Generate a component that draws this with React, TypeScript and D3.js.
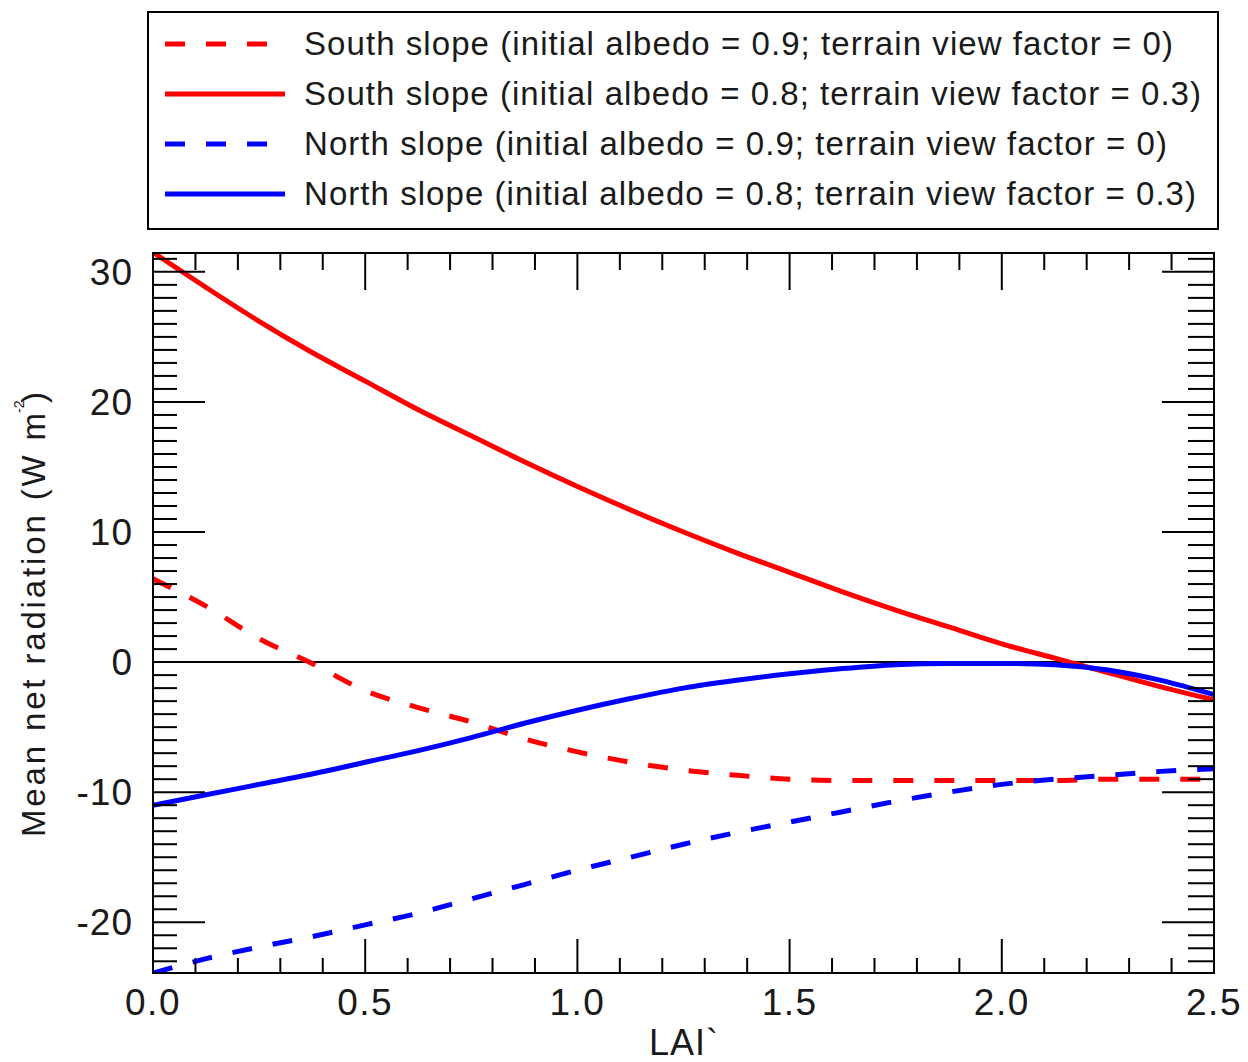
import React from "react";
import * as d3 from "d3";

const lai = [0, 0.125, 0.25, 0.375, 0.5, 0.625, 0.75, 0.875, 1.0, 1.125, 1.25, 1.375, 1.5, 1.625, 1.75, 1.875, 2.0, 2.125, 2.25, 2.375, 2.5];
const southDashed = [6.4, 4.3, 1.8, -0.1, -2.2, -3.5, -4.6, -5.9, -6.9, -7.7, -8.3, -8.7, -9.0, -9.1, -9.1, -9.1, -9.1, -9.1, -9.0, -9.0, -9.0];
const southSolid = [31.5, 28.8, 26.2, 23.8, 21.6, 19.4, 17.4, 15.4, 13.5, 11.7, 10.0, 8.4, 6.9, 5.4, 4.0, 2.7, 1.4, 0.3, -0.8, -1.9, -2.9];
const northDashed = [-23.9, -22.8, -21.9, -21.1, -20.2, -19.3, -18.2, -17.1, -16.0, -15.0, -14.0, -13.1, -12.3, -11.5, -10.7, -10.0, -9.4, -9.0, -8.7, -8.4, -8.2];
const northSolid = [-11.0, -10.2, -9.4, -8.6, -7.7, -6.8, -5.8, -4.7, -3.7, -2.8, -2.0, -1.4, -0.9, -0.5, -0.2, -0.1, -0.1, -0.2, -0.6, -1.4, -2.5];

const seriesLabels = [
  "South slope (initial albedo = 0.9; terrain view factor = 0)",
  "South slope (initial albedo = 0.8; terrain view factor = 0.3)",
  "North slope (initial albedo = 0.9; terrain view factor = 0)",
  "North slope (initial albedo = 0.8; terrain view factor = 0.3)",
];
const seriesValues = [southDashed, southSolid, northDashed, northSolid];
const seriesColors = ["#ff0000", "#ff0000", "#0000ff", "#0000ff"];
const seriesDashed = [true, false, true, false];
const legendTextWidths = [869, 897, 863, 892];

const xTickLabels = ["0.0", "0.5", "1.0", "1.5", "2.0", "2.5"];
const yTickValues = [-20, -10, 0, 10, 20, 30];

const FONT = "'Liberation Sans', Arial, Helvetica, sans-serif";

export default function App() {
  const left = 153, right = 1214, top = 253, bottom = 973;
  const x = d3.scaleLinear().domain([0, 2.5]).range([left, right]);
  const y = d3.scaleLinear().domain([-23.9, 31.45]).range([bottom, top]);

  const line = d3
    .line<[number, number]>()
    .x((d) => x(d[0]))
    .y((d) => y(d[1]))
    .curve(d3.curveMonotoneX);

  const xMinor = d3.range(0, 26).map((i) => i / 10);
  const yMinor = d3.range(-23, 32).filter((v) => v >= -23.9 && v <= 31.45);

  const dash = "20 21";

  return (
    <svg
      width={1248}
      height={1062}
      style={{ position: "absolute", left: 0, top: 0, background: "#fff" }}
      fontFamily={FONT}
    >
      <rect x={0} y={0} width={1248} height={1062} fill="#fff" />
      {/* Legend */}
      <rect x={148} y={12} width={1070} height={217} fill="#fff" stroke="#000" strokeWidth={2} />
      {seriesLabels.map((lab, i) => {
        const cy = 44 + i * 50;
        return (
          <g key={lab}>
            <line
              x1={165}
              x2={285}
              y1={cy}
              y2={cy}
              stroke={seriesColors[i]}
              strokeWidth={5}
              strokeDasharray={seriesDashed[i] ? dash : undefined}
            />
            <text
              x={304}
              y={cy + 11}
              fontSize={33}
              fill="#1a1a1a"
              textLength={legendTextWidths[i]}
              lengthAdjust="spacing"
            >
              {lab}
            </text>
          </g>
        );
      })}

      <defs>
        <clipPath id="plotclip">
          <rect x={left} y={top} width={right - left} height={bottom - top} />
        </clipPath>
      </defs>

      {/* zero line */}
      <line x1={left} x2={right} y1={y(0)} y2={y(0)} stroke="#000" strokeWidth={2} />

      {/* series */}
      <g clipPath="url(#plotclip)">
        {seriesValues.map((vals, i) => (
          <path
            key={i}
            d={line(lai.map((l, j) => [l, vals[j]] as [number, number])) || ""}
            fill="none"
            stroke={seriesColors[i]}
            strokeWidth={5}
            strokeDasharray={seriesDashed[i] ? dash : undefined}
          />
        ))}
      </g>

      {/* ticks */}
      <g stroke="#000" strokeWidth={2}>
        {xMinor.map((v, i) => {
          const major = i % 5 === 0;
          const px = x(v);
          return (
            <g key={"xt" + i}>
              <line x1={px} x2={px} y1={bottom} y2={bottom - (major ? 34 : 15)} />
              <line x1={px} x2={px} y1={top} y2={top + (major ? 37 : 17)} />
            </g>
          );
        })}
        {yMinor.map((v) => {
          const major = v % 10 === 0;
          const py = y(v);
          return (
            <g key={"yt" + v}>
              <line x1={left} x2={left + (major ? 52 : 24)} y1={py} y2={py} />
              <line x1={right} x2={right - (major ? 52 : 26)} y1={py} y2={py} />
            </g>
          );
        })}
      </g>

      {/* frame */}
      <rect x={left} y={top} width={right - left} height={bottom - top} fill="none" stroke="#000" strokeWidth={2} />

      {/* tick labels */}
      {xTickLabels.map((t) => (
        <text key={t} x={x(+t)} y={1015} fontSize={37} textAnchor="middle" fill="#1a1a1a" letterSpacing={1.5}>
          {t}
        </text>
      ))}
      {yTickValues.map((v) => (
        <text key={v} x={133} y={y(v) + 13} fontSize={37} textAnchor="end" fill="#1a1a1a" letterSpacing={1}>
          {v}
        </text>
      ))}

      {/* axis titles */}
      <text x={684} y={1055} fontSize={36} textAnchor="middle" fill="#1a1a1a" letterSpacing={1}>
        LAI`
      </text>
      <text
        transform="translate(45,837) rotate(-90)"
        fontSize={33}
        fill="#1a1a1a"
        textLength={424}
        lengthAdjust="spacing"
      >
        Mean net radiation (W m
      </text>
      <text transform="translate(24,413) rotate(-90)" fontSize={14} fill="#1a1a1a">
        -2
      </text>
      <text transform="translate(45,403) rotate(-90)" fontSize={33} fill="#1a1a1a">
        )
      </text>
    </svg>
  );
}
